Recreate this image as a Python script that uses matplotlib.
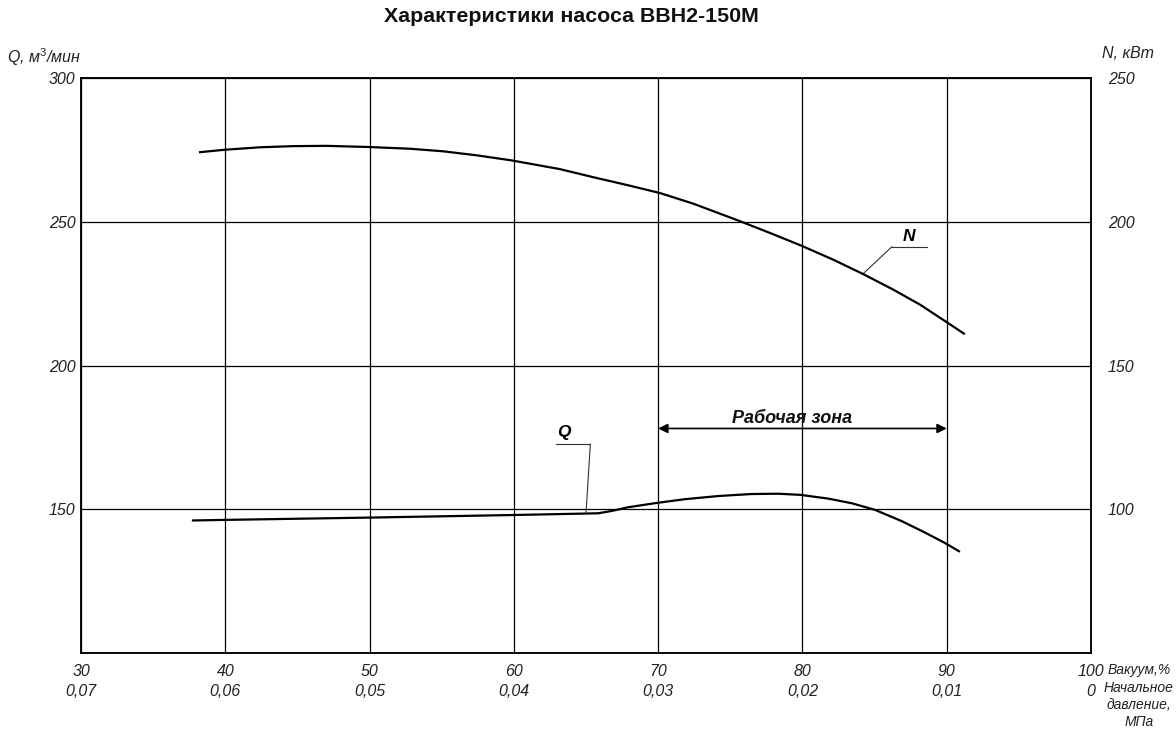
import matplotlib.pyplot as plt

plt.rcParams['font.family'] = ['Liberation Sans', 'DejaVu Sans']
plt.rcParams['mathtext.fontset'] = 'custom'
plt.rcParams['mathtext.rm'] = 'Liberation Sans'
plt.rcParams['mathtext.it'] = 'Liberation Sans:italic'

# Вакуум, % -> подача Q, м3/мин (левая ось)
vac_q = [37.76, 40, 50, 60, 64.93, 65.85, 66.77, 67.93, 69.9, 71.86, 74.17, 76.48,
         78.33, 79.88, 81.79, 83.41, 85.02, 86.87, 88.49, 89.9, 90.85]
q_vals = [146.1, 146.3, 147.1, 148.0, 148.5, 148.6, 149.4, 150.7, 152.2, 153.5, 154.6, 155.3,
          155.4, 155.0, 153.7, 152.1, 149.8, 145.9, 141.9, 138.2, 135.4]

# Вакуум, % -> мощность N, кВт (правая ось)
vac_n = [38.25, 39.86, 42.4, 44.71, 47.03, 49.91, 52.8, 55.11, 57.43, 59.89, 63.2, 65.5,
         67.82, 70.12, 72.43, 75.67, 77.75, 79.87, 82.14, 84.21, 86.29, 88.14, 89.9, 91.19]
n_vals = [224.2, 225.0, 225.9, 226.3, 226.4, 226.0, 225.4, 224.5, 223.1, 221.3, 218.3, 215.5,
          212.8, 210.0, 206.3, 200.2, 196.1, 191.8, 186.8, 181.8, 176.4, 171.2, 165.4, 161.1]

x_ticks = [30, 40, 50, 60, 70, 80, 90, 100]
x_labels = ['30\n0,07', '40\n0,06', '50\n0,05', '60\n0,04', '70\n0,03',
            '80\n0,02', '90\n0,01', '100\n0']
q_ticks = [150, 200, 250, 300]
n_ticks = [100, 150, 200, 250]

txt = '#222222'

fig = plt.figure(figsize=(11.76, 7.33), dpi=100)
ax = fig.add_axes([81/1176, 80/733, 1010/1176, 575/733])
ax2 = ax.twinx()

ax.set_xlim(30, 100)
ax.set_ylim(100, 300)
ax2.set_ylim(50, 250)

ax.set_xticks(x_ticks)
ax.set_xticklabels(x_labels, fontsize=11.5, style='italic', color=txt, linespacing=1.4)
ax.set_yticks(q_ticks)
ax.set_yticklabels([str(v) for v in q_ticks], fontsize=11.5, style='italic', color=txt)
ax2.set_yticks(n_ticks)
ax2.set_yticklabels([str(v) for v in n_ticks], fontsize=11.5, style='italic', color=txt)
ax.tick_params(axis='x', length=0, pad=8)
ax.tick_params(axis='y', length=0, pad=4)
ax2.tick_params(axis='y', length=0, pad=12)

ax.grid(True, color='black', linewidth=0.9)
for a in (ax, ax2):
    for s in a.spines.values():
        s.set_linewidth(1.1)

ax.plot(vac_q, q_vals, color='black', linewidth=1.6)
ax2.plot(vac_n, n_vals, color='black', linewidth=1.6)

# выноски
ax.plot([86.2, 88.6], [241.3, 241.3], color='#333333', linewidth=0.8)
ax.plot([84.2, 86.2], [231.9, 241.3], color='#333333', linewidth=0.8)
ax.text(87.4, 244.8, 'N', fontsize=12.5, fontweight='bold', style='italic',
        ha='center', va='center')
ax.plot([62.9, 65.3], [172.6, 172.6], color='#333333', linewidth=0.8)
ax.plot([65.0, 65.3], [148.6, 172.6], color='#333333', linewidth=0.8)
ax.text(63.5, 176.7, 'Q', fontsize=12.5, fontweight='bold', style='italic',
        ha='center', va='center')

# рабочая зона
ax.annotate('', xy=(70, 178.1), xytext=(90, 178.1),
            arrowprops=dict(arrowstyle='<|-|>', color='black', lw=1.2,
                            mutation_scale=14, shrinkA=0, shrinkB=0))
ax.text(79.3, 181.6, 'Рабочая зона', fontsize=13, fontweight='bold',
        style='italic', ha='center', va='center', color='#111111')

fig.text(571/1176, 1 - 17/733, 'Характеристики насоса ВВН2-150М', fontsize=15.4,
         fontweight='bold', ha='center', va='center', color='#111111')
fig.text(7/1176, 1 - 57/733, 'Q, м$^{3}$/мин', fontsize=11.5, style='italic',
         ha='left', va='center', color=txt)
fig.text(1102/1176, 1 - 53/733, 'N, кВт', fontsize=11.5, style='italic',
         ha='left', va='center', color=txt)
fig.text(1108/1176, 1 - 670/733, 'Вакуум,%', fontsize=10, style='italic',
         ha='left', va='center', color=txt)
fig.text(1139/1176, 1 - 681/733, 'Начальное\nдавление,\nМПа', fontsize=10,
         style='italic', ha='center', va='top', color=txt, linespacing=1.25)

fig.savefig('out.png', dpi=100)
